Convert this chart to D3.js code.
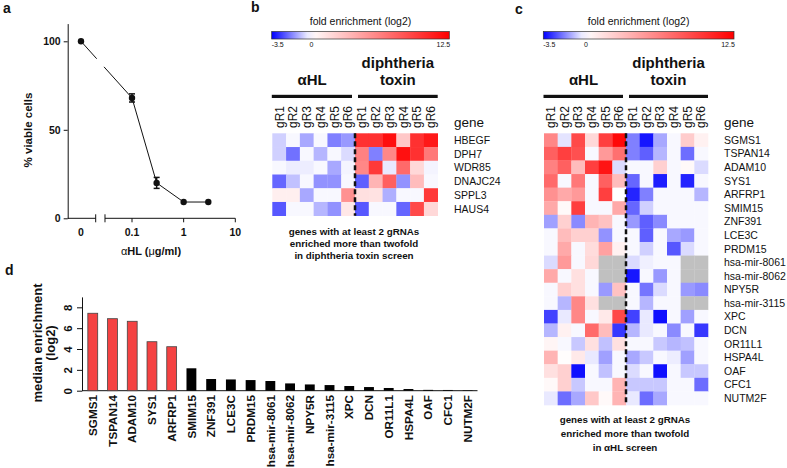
<!DOCTYPE html>
<html><head><meta charset="utf-8">
<script src="https://cdn.jsdelivr.net/npm/d3@7"></script>
<style>body{margin:0;background:#fff} svg{display:block} text{font-family:"Liberation Sans",Arial,sans-serif;fill:#111}</style>
</head><body><svg id="chart" width="787" height="468"></svg>
<script>
// ---------- Panel a data ----------
const doseTicks = [0, 0.1, 1, 10];
const doseTickLabels = ["0", "0.1", "1", "10"];
const doses = [0, 0.1, 0.3, 1, 3];
const viability = [100, 68, 20, 9.2, 9.2];
const viabilityErr = [0, 2.3, 3.1, 0, 0];
const viabilityTicks = [0, 50, 100];

// ---------- Heatmap data ----------
const guideCols = ["gR1","gR2","gR3","gR4","gR5","gR6","gR1","gR2","gR3","gR4","gR5","gR6"];
const colorDomain = [-3.5, 0, 12.5];
const colorbarLabels = ["-3.5", "0", "12.5"];
const bGenes = ["HBEGF","DPH7","WDR85","DNAJC24","SPPL3","HAUS4"];
const bValues = [
  [-0.65,-0.1,-1.2,-0.1,-1.75,-1.4, 10.1,10.1,11.8,2.7,10.1,11.3],
  [-0.65,-1.95,-0.1,-1.0,-0.1,-0.5, 6.2,-1.75,5.9,11.7,10.1,6.6],
  [-0.1,-0.25,-0.25,-0.1,-1.2,-0.15, 5.9,9.7,-0.3,7.3,1.9,-0.15],
  [-2.1,-0.85,-0.1,-1.5,-1.5,-0.1, -2.2,3.7,7.8,-1.5,3.3,-0.1],
  [0.8,0.8,-1.2,-0.1,-0.1,5.4, 1.5,1.4,-1.1,-0.1,-0.1,9.7],
  [-2.3,-0.1,-0.1,-1.0,-1.5,1.2, -2.3,-0.1,-0.1,-2.1,8.9,1.9]
];
const cGenes = ["SGMS1","TSPAN14","ADAM10","SYS1","ARFRP1","SMIM15","ZNF391","LCE3C","PRDM15",
  "hsa-mir-8061","hsa-mir-8062","NPY5R","hsa-mir-3115","XPC","DCN","OR11L1","HSPA4L","OAF","CFC1","NUTM2F"];
const cValues = [
  [5.9,-0.37,8.9,1.9,9.4,12.1, -1.75,-3.2,-1.2,-0.1,2.5,0.7],
  [7.8,9.4,8.6,-0.1,5.0,7.0, -1.75,-2.2,-1.0,-0.1,-2.0,-0.1],
  [6.2,7.8,3.3,9.4,11.5,-0.5, -0.1,-0.1,2.3,-0.1,0.3,-0.5],
  [7.3,-0.1,6.6,-0.1,7.8,3.3, -2.1,-0.1,-3.1,-0.1,-3.0,-0.1],
  [5.4,4.2,5.0,-0.1,9.4,0.0, -3.0,-1.75,-0.1,-0.1,-0.1,-1.0],
  [4.2,0.3,9.4,-0.1,-0.1,4.2, -2.1,-0.65,-0.1,-0.1,-0.1,-0.1],
  [-1.3,2.3,-1.6,3.7,3.0,-0.1, -1.4,-2.2,-1.6,-0.1,-0.1,-0.1],
  [-0.1,3.3,2.3,2.3,-1.5,-0.1, -0.1,-2.2,-0.1,-1.2,-1.4,-0.1],
  [-0.1,4.2,-0.1,1.7,4.6,0.7, -0.1,-0.65,-0.1,-2.3,-0.5,-0.1],
  [-0.5,5.0,-0.1,1.9,null,null, -0.5,-0.2,-0.1,-0.1,null,null],
  [4.2,-0.1,1.5,-0.1,null,null, -3.2,-0.1,-1.4,-0.1,null,null],
  [-0.1,2.3,1.5,-0.1,-1.4,3.0, -0.1,-1.9,-0.5,-0.1,-1.4,-1.6],
  [-0.1,-1.0,5.9,1.5,null,null, -0.1,-1.0,-0.1,-0.1,null,null],
  [-2.6,-0.3,5.9,-0.1,1.1,8.9, -2.6,-0.3,-3.3,-0.1,-1.3,-0.1],
  [-1.0,0.7,-0.1,7.3,3.3,-2.75, -1.0,-0.3,-0.1,-1.6,-0.1,-2.75],
  [0.5,-0.1,-0.75,1.5,-0.85,1.5, -0.1,-0.1,-0.75,-1.0,-0.85,-0.1],
  [3.7,0.1,1.1,-0.3,-1.3,-0.1, -1.2,-0.75,-0.1,-0.25,-1.3,-0.1],
  [1.5,2.3,-3.3,-0.1,-0.85,-0.1, -0.5,-0.1,-3.3,-0.1,-0.75,-0.75],
  [0.3,2.3,-0.75,-0.1,-0.1,3.7, -0.75,-0.75,-0.75,-0.1,-0.1,-2.0],
  [-0.3,-2.0,-1.2,2.7,0.3,3.7, -0.3,-2.0,-1.2,-0.1,-0.1,-0.1]
];

// ---------- Panel d data ----------
const dGenes = ["SGMS1","TSPAN14","ADAM10","SYS1","ARFRP1","SMIM15","ZNF391","LCE3C","PRDM15",
  "hsa-mir-8061","hsa-mir-8062","NPY5R","hsa-mir-3115","XPC","DCN","OR11L1","HSPA4L","OAF","CFC1","NUTM2F"];
const dMedian = [7.43,6.91,6.66,4.70,4.22,2.15,1.12,1.08,1.02,0.93,0.70,0.60,0.54,0.45,0.35,0.26,0.16,0.08,0.07,0.04];
const dHighlight = ["SGMS1","TSPAN14","ADAM10","SYS1","ARFRP1"];
const dTicks = [0, 2, 4, 6, 8];

// ================================================================
const svg = d3.select("#chart");
const FONT_BOLD = 700;

function panelLabel(t, x, y) {
  svg.append("text").attr("x", x).attr("y", y).attr("font-size", 14).attr("font-weight", FONT_BOLD).text(t);
}
panelLabel("a", 3, 13);
panelLabel("b", 251, 12);
panelLabel("c", 515, 14);
panelLabel("d", 5, 275);

// ---------- Panel a ----------
(function () {
  const gA = svg.append("g");
  const xLog = d3.scaleLog().domain([0.1, 10]).range([132, 235.3]);
  const zeroX = 81;
  const xA = v => v === 0 ? zeroX : xLog(v);
  const yA = d3.scaleLinear().domain([0, 110]).range([218.3, 23.6]);
  const axisX = 67.7;

  const yAxis = d3.axisLeft(yA).tickValues(viabilityTicks).tickSize(4).tickSizeOuter(0).tickPadding(3);
  const ya = gA.append("g").attr("transform", `translate(${axisX},0)`).call(yAxis);
  ya.selectAll("text").attr("font-size", 10.5).attr("font-weight", FONT_BOLD).attr("fill", "#111");
  ya.selectAll("path,line").attr("stroke", "#111");

  const y0 = yA(0);
  const breakL = 95.7, breakR = xLog(0.03);
  // left axis piece
  gA.append("line").attr("x1", axisX).attr("x2", breakL).attr("y1", y0).attr("y2", y0).attr("stroke", "#111");
  gA.append("line").attr("x1", breakL).attr("x2", breakL).attr("y1", y0 - 4).attr("y2", y0 + 4).attr("stroke", "#111");
  // right axis piece
  gA.append("line").attr("x1", breakR).attr("x2", xLog(10)).attr("y1", y0).attr("y2", y0).attr("stroke", "#111");
  gA.append("line").attr("x1", breakR).attr("x2", breakR).attr("y1", y0 - 4).attr("y2", y0 + 4).attr("stroke", "#111");
  doseTicks.forEach((d, i) => {
    if (d !== 0) {
      gA.append("line").attr("x1", xA(d)).attr("x2", xA(d)).attr("y1", y0).attr("y2", y0 + 4).attr("stroke", "#111");
    }
    gA.append("text").attr("x", xA(d)).attr("y", 236).attr("text-anchor", "middle")
      .attr("font-size", 10.5).attr("font-weight", FONT_BOLD).text(doseTickLabels[i]);
  });

  // line with break gap
  const pts = doses.map((d, i) => [xA(d), yA(viability[i])]);
  const gapL = 96.7, gapR = 104;
  const interp = (p, q, x) => [x, p[1] + (q[1] - p[1]) * (x - p[0]) / (q[0] - p[0])];
  const line = d3.line();
  gA.append("path").attr("d", line([pts[0], interp(pts[0], pts[1], gapL)])).attr("fill", "none").attr("stroke", "#111").attr("stroke-width", 1);
  gA.append("path").attr("d", line([interp(pts[0], pts[1], gapR), ...pts.slice(1)])).attr("fill", "none").attr("stroke", "#111").attr("stroke-width", 1);

  // error bars
  doses.forEach((d, i) => {
    if (viabilityErr[i] > 0) {
      const x = xA(d), yt = yA(viability[i] + viabilityErr[i]), yb = yA(viability[i] - viabilityErr[i]);
      gA.append("line").attr("x1", x).attr("x2", x).attr("y1", yt).attr("y2", yb).attr("stroke", "#111").attr("stroke-width", 1.5);
      [yt, yb].forEach(yy => gA.append("line").attr("x1", x - 3).attr("x2", x + 3).attr("y1", yy).attr("y2", yy).attr("stroke", "#111").attr("stroke-width", 1.5));
    }
  });
  gA.selectAll("circle.pt").data(doses).join("circle").attr("class", "pt")
    .attr("cx", d => xA(d)).attr("cy", (d, i) => yA(viability[i])).attr("r", 3.2).attr("fill", "#111");

  gA.append("text").attr("transform", "translate(32,130) rotate(-90)").attr("text-anchor", "middle")
    .attr("font-size", 11.5).attr("font-weight", FONT_BOLD).text("% viable cells");
  const xl = gA.append("text").attr("x", 151).attr("y", 255).attr("text-anchor", "middle")
    .attr("font-size", 11).attr("font-weight", FONT_BOLD);
  xl.append("tspan").attr("font-weight", 400).text("α");
  xl.append("tspan").text("HL (");
  xl.append("tspan").attr("font-weight", 400).text("μ");
  xl.append("tspan").text("g/ml)");
})();

// ---------- Heatmaps ----------
const color = d3.scaleLinear().domain(colorDomain).range(["#0000ff", "#ffffff", "#ff0000"]).clamp(true);
let gradId = 0;
function heatmap(cfg) {
  const g = svg.append("g");
  // colorbar
  const cb = d3.scaleLinear().domain([colorDomain[0], colorDomain[2]]).range([cfg.cbX0, cfg.cbX1]);
  const id = "grad" + (gradId++);
  const grad = svg.append("defs").append("linearGradient").attr("id", id);
  d3.range(0, 1.0001, 0.05).forEach(t => {
    const v = colorDomain[0] + t * (colorDomain[2] - colorDomain[0]);
    grad.append("stop").attr("offset", t).attr("stop-color", color(v));
  });
  g.append("rect").attr("x", cb.range()[0]).attr("y", 31.5).attr("width", cb.range()[1] - cb.range()[0]).attr("height", 7.5)
    .attr("fill", `url(#${id})`).attr("stroke", "#333").attr("stroke-width", 0.7);
  g.append("text").attr("x", (cfg.cbX0 + cfg.cbX1) / 2).attr("y", 25).attr("text-anchor", "middle")
    .attr("font-size", 10.5).text("fold enrichment (log2)");
  colorDomain.forEach((v, i) => {
    g.append("text").attr("x", cb(v) + (i === 0 ? 6 : i === 2 ? -6 : 1)).attr("y", 47).attr("text-anchor", "middle")
      .attr("font-size", 7).text(colorbarLabels[i]);
  });

  const x = d3.scaleBand().domain(d3.range(12)).range([cfg.x0, cfg.x1]);
  const y = d3.scaleBand().domain(cfg.genes).range([cfg.y0, cfg.y1]);
  cfg.values.forEach((row, r) => {
    g.selectAll(null).data(row).join("rect")
      .attr("x", (d, i) => x(i)).attr("y", y(cfg.genes[r]))
      .attr("width", x.bandwidth() + 0.3).attr("height", y.bandwidth() + 0.3)
      .attr("fill", d => d === null ? "#c0c0c0" : color(d));
  });
  // dashed separator
  const sx = x(6);
  g.append("line").attr("x1", sx).attr("x2", sx).attr("y1", cfg.y0).attr("y2", cfg.y1)
    .attr("stroke", "#111").attr("stroke-width", 2.5).attr("stroke-dasharray", "5,3");
  // column labels
  guideCols.forEach((c, i) => {
    g.append("text").attr("transform", `translate(${x(i) + x.bandwidth() / 2},128) rotate(-90)`)
      .attr("dy", "0.36em").attr("font-size", 12).text(c);
  });
  // group bars
  const barY = 96.3;
  g.append("rect").attr("x", x(0) - 0.5).attr("y", barY - 1.5).attr("width", sx - 3 - x(0) + 0.5).attr("height", 3.2).attr("fill", "#111");
  g.append("rect").attr("x", sx + 3).attr("y", barY - 1.5).attr("width", cfg.x1 - sx - 3).attr("height", 3.2).attr("fill", "#111");
  const cA = (x(0) + sx - 3) / 2, cT = (sx + 3 + cfg.x1) / 2;
  g.append("text").attr("x", cA).attr("y", 85).attr("text-anchor", "middle").attr("font-size", 15).attr("font-weight", FONT_BOLD).text("αHL");
  g.append("text").attr("x", cT).attr("y", 68).attr("text-anchor", "middle").attr("font-size", 15).attr("font-weight", FONT_BOLD).text("diphtheria");
  g.append("text").attr("x", cT).attr("y", 85).attr("text-anchor", "middle").attr("font-size", 15).attr("font-weight", FONT_BOLD).text("toxin");
  // row labels
  g.append("text").attr("x", cfg.labelX).attr("y", 127).attr("font-size", 13.5).text("gene");
  cfg.genes.forEach(gn => {
    g.append("text").attr("x", cfg.labelX).attr("y", y(gn) + y.bandwidth() / 2).attr("dy", "0.36em")
      .attr("font-size", 10.5).text(gn);
  });
  // caption
  cfg.caption.forEach((t, i) => {
    g.append("text").attr("x", cfg.capX).attr("y", cfg.capY + i * cfg.capDy).attr("text-anchor", "middle")
      .attr("font-size", 9.8).attr("font-weight", FONT_BOLD).text(t);
  });
}

heatmap({
  cbX0: 271.7, cbX1: 449.3, x0: 272.3, x1: 437.7, y0: 133.3, y1: 215.7,
  genes: bGenes, values: bValues, labelX: 454,
  caption: ["genes with at least 2 gRNAs", "enriched more than twofold", "in diphtheria toxin screen"],
  capX: 354, capY: 234.5, capDy: 12.3
});
heatmap({
  cbX0: 543.3, cbX1: 734, x0: 544, x1: 708, y0: 133.3, y1: 405,
  genes: cGenes, values: cValues, labelX: 724,
  caption: ["genes with at least 2 gRNAs", "enriched more than twofold", "in αHL screen"],
  capX: 625, capY: 423, capDy: 14
});

// ---------- Panel d ----------
(function () {
  const g = svg.append("g");
  const x = d3.scaleBand().domain(dGenes).range([82.9, 477.5]).paddingInner(0.5).paddingOuter(0.25);
  const y = d3.scaleLinear().domain([0, 9]).range([390.7, 296.9]);
  const axisX = 82;
  const ya = g.append("g").attr("transform", `translate(${axisX},0)`)
    .call(d3.axisLeft(y).tickValues(dTicks).tickSize(5).tickSizeOuter(0));
  ya.selectAll("path,line").attr("stroke", "#111");
  ya.selectAll("text").attr("x", 0).attr("dy", 0).attr("text-anchor", "middle")
    .attr("transform", "translate(-10,0) rotate(-90)")
    .attr("font-size", 11.5).attr("font-weight", FONT_BOLD).attr("fill", "#111");
  g.append("line").attr("x1", axisX).attr("x2", 477.5).attr("y1", y(0)).attr("y2", y(0)).attr("stroke", "#111");

  g.selectAll("rect.bar").data(dGenes).join("rect").attr("class", "bar")
    .attr("x", d => x(d)).attr("width", x.bandwidth())
    .attr("y", (d, i) => y(dMedian[i])).attr("height", (d, i) => y(0) - y(dMedian[i]))
    .attr("fill", d => dHighlight.includes(d) ? "#f44242" : "#000")
    .attr("stroke", d => dHighlight.includes(d) ? "#444" : "none").attr("stroke-width", 0.8);

  dGenes.forEach(gn => {
    g.append("text").attr("transform", `translate(${x(gn) + x.bandwidth() / 2},395) rotate(-90)`)
      .attr("dy", "0.36em").attr("text-anchor", "end").attr("font-size", 11.7).attr("font-weight", FONT_BOLD).text(gn);
  });
  const yl = g.append("text").attr("transform", "translate(42,343) rotate(-90)").attr("text-anchor", "middle")
    .attr("font-size", 13).attr("font-weight", FONT_BOLD);
  yl.append("tspan").attr("x", 0).attr("y", 0).text("median enrichment");
  yl.append("tspan").attr("x", 0).attr("y", 13).text("(log2)");
})();
</script></body></html>
